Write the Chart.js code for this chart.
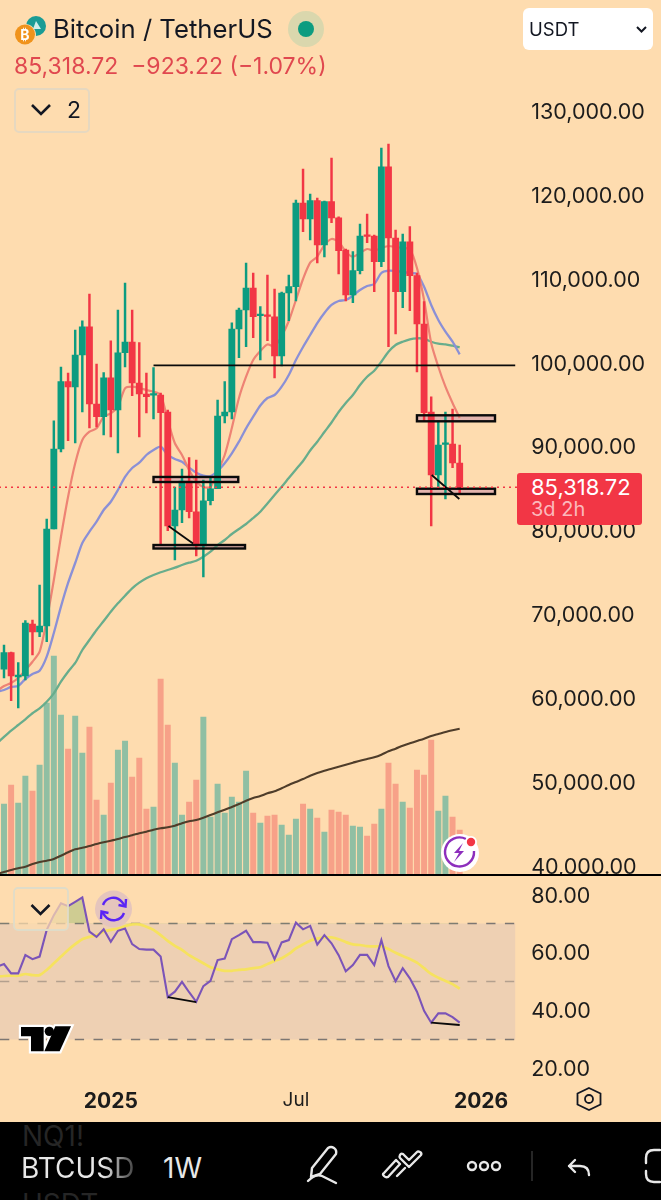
<!DOCTYPE html>
<html><head><meta charset="utf-8">
<script src="https://cdn.jsdelivr.net/npm/chart.js@4"></script>
<style>
html,body{margin:0;padding:0;background:#fedcaf;width:661px;height:1200px;overflow:hidden;font-family:Inter,sans-serif;color:#131722}
canvas{position:absolute;left:-7px}
.a{position:absolute;white-space:nowrap;line-height:1}
svg{position:absolute;overflow:visible}
</style></head><body>
<canvas id="main" style="top:0"></canvas>
<canvas id="rsi" style="top:876px"></canvas>

<svg style="left:0;top:0" width="661" height="130">
  <circle cx="36" cy="26" r="10" fill="#1a9c95"/><path d="M36 21l5 8h-8z" fill="#cfeeea"/>
  <circle cx="25" cy="35" r="11" fill="#fedcaf"/><circle cx="25" cy="34.5" r="10" fill="#f0931c"/>
  <text x="25" y="40" font-size="14" font-weight="700" fill="#fff" text-anchor="middle" font-family="Inter">₿</text>
  <circle cx="306" cy="29" r="18" fill="#dad7ad"/><circle cx="306" cy="29" r="8" fill="#0c9c80"/>
</svg>
<div class="a" style="left:53px;top:16px;font-size:25.7px">Bitcoin / TetherUS</div>
<div class="a" style="left:14px;top:55px;font-size:23px;color:#e0484f;">85,318.72&nbsp; −923.22 (−1.07%)</div>
<div class="a" style="left:14px;top:88px;width:72px;height:41px;border:2px solid #e6d8c0;border-radius:5px"></div>
<svg style="left:0;top:0" width="100" height="130"><path d="M32 105l9 9 9-9" fill="none" stroke="#131722" stroke-width="2.6"/></svg>
<div class="a" style="left:67px;top:99px;font-size:23px">2</div>

<div class="a" style="left:523px;top:8px;width:130px;height:42px;background:#fff;border-radius:6px"></div>
<div class="a" style="left:529px;top:20px;font-size:18.5px">USDT</div>
<svg style="left:0;top:0" width="661" height="60"><path d="M637 27l4.500 4.500 4.500-4.500" fill="none" stroke="#131722" stroke-width="2"/></svg>

<div class="a" style="left:517px;top:473px;width:125px;height:52px;background:#f23645;border-radius:3px"></div>
<div class="a" style="left:531px;top:476px;font-size:22px;color:#fff;">85,318.72</div>
<div class="a" style="left:531px;top:499px;font-size:20px;color:#fbb9bc">3d 2h</div>

<div class="a" style="left:0;top:874px;width:661px;height:2px;background:#000"></div>

<svg style="left:0;top:0" width="661" height="1200">
  <circle cx="460" cy="853" r="19" fill="#fff"/>
  <path d="M474 851a14.500 14.500 0 1 1-8-12" fill="none" stroke="#8d2fbd" stroke-width="2.400"/>
  <path d="M463 843l-9 10h5l-5 9 10-11h-5l4-8z" fill="#8d2fbd"/>
  <circle cx="471" cy="842" r="6" fill="#fff"/><circle cx="471" cy="842" r="4.200" fill="#f23645"/>
  <rect x="14" y="888" width="54" height="42" rx="4" fill="#fedcaf" fill-opacity=".72" stroke="#dfdcc9" stroke-width="1.800"/>
  <path d="M31.500 905l9 9 9-9" fill="none" stroke="#131722" stroke-width="2.600"/>
  <circle cx="113.500" cy="909" r="18.500" fill="#e5c5bd"/>
  <g fill="none" stroke="#5a25f5" stroke-width="2.400">
    <path d="M103 905a11 11 0 0 1 19-3l3 4"/><path d="M124 913a11 11 0 0 1-19 3l-3-4"/>
    <path d="M126 899l-.5 7.500-7-1.500"/><path d="M101 919l.5-7.500 7 1.500"/>
  </g>
  <g transform="translate(17 1023) scale(.3333)">
    <path d="M12 12H80V85H42V40H12Z" fill="#000" stroke="#fff" stroke-width="13"/>
    <circle cx="97" cy="25" r="14" fill="#000" stroke="#fff" stroke-width="13"/>
    <path d="M115 10H162L128 85H82Z" fill="#000" stroke="#fff" stroke-width="13"/>
    <path d="M12 12H80V85H42V40H12Z" fill="#000"/><circle cx="97" cy="25" r="14" fill="#000"/><path d="M115 10H162L128 85H82Z" fill="#000"/>
  </g>
  <path d="M589 1088l11.500 5.500v11L589 1110l-11.500-5.500v-11z" fill="none" stroke="#131722" stroke-width="1.800"/>
  <circle cx="589" cy="1099" r="4" fill="none" stroke="#131722" stroke-width="1.800"/>
</svg>

<div class="a" style="left:0;top:1122px;width:661px;height:78px;background:#000;overflow:hidden">
  <div class="a" style="left:22px;top:0;font-size:28px;color:#262626">NQ1!</div>
  <div class="a" style="left:22px;top:68px;font-size:28px;color:#262626">USDT</div>
  <div class="a" style="left:21px;top:32px;font-size:28px;background:linear-gradient(90deg,#e8e8e8 72%,#444 100%);-webkit-background-clip:text;background-clip:text;color:transparent">BTCUSD</div>
  <div class="a" style="left:163px;top:32px;font-size:28px;color:#e8e8e8">1W</div>
  <svg style="left:0;top:-1122px" width="661" height="1200">
    <g fill="none" stroke="#e8e8e8" stroke-width="2.400" stroke-linecap="round" stroke-linejoin="round">
      <path d="M312 1168l16-20q3-2 6 0t2 6l-16 20-9 3z"/><path d="M308 1181q8-8 14-5t14 7"/>
      <path d="M384 1173l12-13 4 4-12 13q-2 1-4-1t0-3zM397 1176l8-8M404 1162l5 5 12-12q1-2-1-3t-3 0l-8 8-6-6q-2-1-3 1t0 3z"/>
      <circle cx="472" cy="1166" r="4"/><circle cx="484" cy="1166" r="4"/><circle cx="496" cy="1166" r="4"/>
      <path d="M589 1175q0-9-9-9h-11M575 1160l-6 6 6 6"/>
      <path d="M660 1150h-6q-8 0-8 8v5M660 1182h-6q-8 0-8-8v-3"/>
    </g>
    <path d="M532 1151v30" stroke="#333" stroke-width="1.500"/>
  </svg>
</div>

<script>
const weeks=['2024-09-16','2024-09-23','2024-09-30','2024-10-07','2024-10-14','2024-10-21','2024-10-28','2024-11-04','2024-11-11','2024-11-18','2024-11-25','2024-12-02','2024-12-09','2024-12-16','2024-12-23','2024-12-30','2025-01-06','2025-01-13','2025-01-20','2025-01-27','2025-02-03','2025-02-10','2025-02-17','2025-02-24','2025-03-03','2025-03-10','2025-03-17','2025-03-24','2025-03-31','2025-04-07','2025-04-14','2025-04-21','2025-04-28','2025-05-05','2025-05-12','2025-05-19','2025-05-26','2025-06-02','2025-06-09','2025-06-16','2025-06-23','2025-06-30','2025-07-07','2025-07-14','2025-07-21','2025-07-28','2025-08-04','2025-08-11','2025-08-18','2025-08-25','2025-09-01','2025-09-08','2025-09-15','2025-09-22','2025-09-29','2025-10-06','2025-10-13','2025-10-20','2025-10-27','2025-11-03','2025-11-10','2025-11-17','2025-11-24','2025-12-01','2025-12-08','2025-12-15','2025-12-22','2025-12-29','2026-01-05','2026-01-12','2026-01-19','2026-01-26','2026-02-02','2026-02-09'];

// the first week (2024-09-16) lies just off the left edge: only the lines reach into view from it
const open=[null,63627,65605,62710,62828,69025,68070,68785,80350,89885,97905,97275,101090,104460,95250,93735,98380,94530,101360,102635,97750,96440,96285,96320,94295,80705,82615,86070,82410,78320,83720,85150,93815,94295,104185,106450,109075,105785,105795,105650,100970,108480,109230,119205,117300,119480,114200,119360,117450,113600,108240,111135,115330,115270,112210,123530,115030,108630,114590,110540,104785,94295,86785,90420,90480,88215];
const high=[null,66522,65688,64413,69420,69500,73675,81540,93255,99660,98945,104065,105175,108360,100015,98980,102790,106450,109670,106450,102555,98945,99575,96560,94530,85355,87500,88850,88575,86190,86430,95725,97905,104935,106690,112055,110860,106845,110620,108955,108600,110620,119560,123255,120280,119800,119440,124570,117570,113720,113400,116700,117895,115390,125760,126235,115985,115510,116380,110860,107440,96115,93255,94295,94650,90360];
const low=[null,62589,59885,59015,62350,65330,67510,66915,80350,89525,90875,90600,94295,92385,92505,91550,91315,89410,99660,96240,91315,94175,93460,78360,80145,76655,81100,81660,77130,74630,83210,85150,93000,93460,100765,102075,103150,100490,102790,98345,99775,105175,107525,115785,114795,112055,112770,116855,110740,107525,107320,110740,114470,108630,111610,102075,103590,106725,106370,99060,93140,80705,85355,83925,87660,84675];
const close=[null,65605,62828,62947,69145,68070,68785,80350,89885,97905,97275,101090,104460,95250,93735,98380,94530,101360,102635,97750,96440,96120,96355,94210,80705,82615,86070,82410,78320,83720,85150,93815,94295,104185,106450,109075,105650,105855,105675,100970,108480,109230,119205,117300,119480,114200,119360,117415,113520,108240,111135,115270,115210,112210,123530,115030,108630,114590,110540,104785,94210,86785,90360,90540,88215,85318.72];

const volume=[null,71000,90000,72000,99000,84000,110000,172000,219000,160000,126000,159000,122000,148000,75000,60000,92000,125000,134000,98000,117000,66000,68000,196000,150000,112000,60000,73000,95000,158000,58000,91000,62000,78000,73000,104000,62000,52000,59000,60000,50000,40000,56000,71000,66000,57000,43000,65000,63000,60000,49000,48000,39000,51000,66000,112000,91000,73000,67000,105000,100000,135000,64000,79000,58000,45000];
const volumeMA=[1000,3000,5000,6700,8300,11000,13000,14300,16000,19300,22700,25700,27300,29000,31000,32700,34300,36000,38000,39700,41700,43300,45300,46700,47700,49300,51700,53700,55000,57300,60000,62700,65300,68000,71000,74300,77000,79000,81700,83700,86700,90000,93000,96000,99300,102000,104300,106300,108300,110300,112300,114300,116000,117700,120300,123700,126300,129300,131700,134000,136300,139000,141000,143000,144700,146300];

const emaFast=[61040,61636,62000,62590,63540,64530,65725,69500,74270,79430,84200,88180,90960,91945,92350,93735,94140,94925,97120,97310,97155,96915,96715,96320,93340,90565,89170,87380,85985,85355,85355,87180,89170,92385,95965,98500,100490,101565,102340,102100,103350,105140,107645,110145,112090,112805,114200,114915,114590,113400,112805,113245,113720,113520,113840,114080,113960,113840,113720,111460,107645,102520,99690,97310,95365,93580];
const emaMid=[60920,61160,61520,61635,62470,63065,63460,65130,67950,71090,73915,76295,78680,80030,81220,82615,83600,85000,86550,87620,88250,89170,89765,90160,89170,88690,88370,87655,87060,86700,86665,87260,88180,89370,90755,92350,93735,95070,95965,96320,97310,98705,100490,102040,103470,104900,106095,107050,107525,107645,108155,108835,109310,109550,110860,111135,111100,110980,110860,110740,109230,107050,105260,103865,102670,101170];
const emaSlow=[54780,55560,56310,56990,57670,58385,58975,59765,60765,62150,63340,64380,65925,67120,68310,69385,70490,71490,72400,73280,73950,74475,74870,75190,75460,75735,76055,76335,76570,77050,77645,78440,79040,79750,80350,80945,81660,82410,83390,84400,85390,86425,87440,88455,89705,90755,91910,93040,94295,95365,96320,97510,98500,99215,100290,101480,102280,102670,102960,103080,103030,102670,102430,102360,102195,102005];

const rsiValues=[55.1,56.0,52.8,52.8,59.1,57.7,58.6,67.8,72.9,77.0,76.0,77.5,79.0,67.2,65.4,68.0,63.7,67.5,68.3,62.9,61.2,61.0,61.0,58.6,44.6,46.5,49.9,46.3,43.0,48.4,50.2,57.4,57.9,64.6,66.0,67.5,63.6,63.6,63.4,57.7,63.5,64.3,70.3,68.0,69.2,62.7,66.0,63.2,59.1,53.5,55.7,59.2,59.2,55.7,64.3,55.3,50.1,54.6,51.1,46.5,39.9,35.8,39.0,39.0,37.7,35.8];
const rsiMA=[51.7,51.9,52.0,52.0,52.6,52.2,52.2,54.0,56.3,58.6,60.9,62.9,64.6,65.4,66.0,67.2,67.8,68.3,69.1,69.7,69.7,68.9,67.8,66.0,64.0,62.3,60.9,59.1,57.7,56.3,54.9,54.2,53.7,53.7,54.0,54.2,54.6,54.9,56.0,57.1,58.0,59.5,61.4,62.8,64.1,64.8,65.2,65.2,64.6,63.6,62.8,62.6,62.2,62.1,62.2,61.2,59.9,58.8,57.8,56.5,54.6,52.6,51.3,50.2,49.1,47.5];

const priceTicks=[40000,50000,60000,70000,80000,90000,100000,110000,120000,130000];
const rsiTicks=[20,40,60,80];
const rsiLevels=[30,50,70];
const timeTickIndex=[16,42,68];
const timeTickLabels=['2025','Jul','2026'];
const lastPrice=85318.72;

// drawing tools: [from index, to index, upper price, lower price]
const zones=[[22,33.9,86550,85950],[22,34.85,78440,78025],[59,69.96,93900,93185],[59,69.96,85150,84520]];
// [from index, to index, from value, to value]
const priceTrends=[[22,72.8,99860,99860],[24.1,27.55,80705,78625],[61.07,64.95,86785,83925]];
const rsiTrends=[[24,28,44.6,42.9],[61,65,35.8,35]];
const paneEndIndex=72.8;

const GREEN='#0c9c80',RED='#f23645',VG='#90bfa3',VR='#f7a188';
const isUp=i=>close[i]>=open[i];
const font={family:'Inter, sans-serif',size:21.5};
const ink='#1c1c1c';
Chart.defaults.animation=false;
Chart.defaults.font.family='Inter, sans-serif';

function noGrid(){return {display:false,drawTicks:false};}
function noPad(s){s.paddingTop=s.paddingBottom=s.paddingLeft=s.paddingRight=0;}

const toolsMain={id:'toolsMain',
  beforeDatasetsDraw(c){
    const {ctx,scales:{x,y}}=c;ctx.save();
    ctx.fillStyle='#e3b4ad';
    zones.forEach(z=>{const a=x.getPixelForValue(z[0]),b=x.getPixelForValue(z[1]),t=y.getPixelForValue(z[2]),u=y.getPixelForValue(z[3]);ctx.fillRect(a,t,b-a,u-t);});
    ctx.restore();
  },
  afterDatasetsDraw(c){
    const {ctx,scales:{x,y}}=c;ctx.save();
    ctx.strokeStyle='#0a0a0a';ctx.lineWidth=2.4;
    zones.forEach(z=>{const a=x.getPixelForValue(z[0]),b=x.getPixelForValue(z[1]),t=y.getPixelForValue(z[2]),u=y.getPixelForValue(z[3]);ctx.strokeRect(a,t,b-a,u-t);});
    ctx.lineWidth=1.8;
    priceTrends.forEach(l=>{ctx.beginPath();ctx.moveTo(x.getPixelForValue(l[0]),y.getPixelForValue(l[2]));ctx.lineTo(x.getPixelForValue(l[1]),y.getPixelForValue(l[3]));ctx.stroke();});
    ctx.strokeStyle=RED;ctx.lineWidth=1.6;ctx.setLineDash([2,4]);
    ctx.beginPath();const py=y.getPixelForValue(lastPrice);ctx.moveTo(0,py);ctx.lineTo(x.right,py);ctx.stroke();
    ctx.restore();
  }};

const toolsRsi={id:'toolsRsi',
  beforeDatasetsDraw(c){
    const {ctx,scales:{x,y}}=c;ctx.save();
    const r=x.getPixelForValue(paneEndIndex);
    const t=y.getPixelForValue(rsiLevels[2]),b=y.getPixelForValue(rsiLevels[0]);
    ctx.fillStyle='#eed0b3';ctx.fillRect(0,t,r,b-t);
    ctx.lineWidth=1.5;ctx.setLineDash([9.3,9.4]);
    rsiLevels.forEach(v=>{ctx.strokeStyle=v===50?'#b3a08e':'#7c7672';ctx.beginPath();const p=y.getPixelForValue(v);ctx.moveTo(7,p);ctx.lineTo(r,p);ctx.stroke();});
    ctx.restore();
  },
  afterDatasetsDraw(c){
    const {ctx,scales:{x,y}}=c;ctx.save();
    ctx.strokeStyle='#0a0a0a';ctx.lineWidth=1.8;
    rsiTrends.forEach(l=>{ctx.beginPath();ctx.moveTo(x.getPixelForValue(l[0]),y.getPixelForValue(l[2]));ctx.lineTo(x.getPixelForValue(l[1]),y.getPixelForValue(l[3]));ctx.stroke();});
    ctx.restore();
  }};

const lineSet=(data,color,w,order,axis)=>({type:'line',data,borderColor:color,borderWidth:w,pointRadius:0,tension:.25,order,yAxisID:axis||'y',fill:false});

const mainEl=document.getElementById('main');mainEl.width=668;mainEl.height=875;
new Chart(mainEl,{
  data:{labels:weeks,datasets:[
    {type:'bar',data:open.map((o,i)=>o===null?null:[Math.min(o,close[i]),Math.max(o,close[i])]),backgroundColor:open.map((o,i)=>isUp(i)?GREEN:RED),barThickness:6.2,minBarLength:1.6,grouped:false,order:1,yAxisID:'y'},
    {type:'bar',data:low.map((l,i)=>l===null?null:[l,high[i]]),backgroundColor:open.map((o,i)=>isUp(i)?GREEN:RED),barThickness:1.8,grouped:false,order:2,yAxisID:'y'},
    lineSet(emaFast,'#ee8374',2.2,3),
    lineSet(emaMid,'#8b90d6',2.3,4),
    lineSet(emaSlow,'#68ad8c',2.3,5),
    lineSet(volumeMA,'#4f3d2a',2.1,6,'yVol'),
    {type:'bar',data:volume,backgroundColor:open.map((o,i)=>isUp(i)?VG:VR),barThickness:5.3,grouped:false,order:7,yAxisID:'yVol'}
  ]},
  options:{responsive:false,devicePixelRatio:1,animation:false,
    layout:{autoPadding:false,padding:{left:.32,right:0,top:0,bottom:0}},
    plugins:{legend:{display:false},tooltip:{enabled:false}},
    scales:{
      x:{type:'category',offset:true,display:false,grid:noGrid()},
      y:{position:'right',min:39109,max:143400,grid:noGrid(),border:{display:false},
        afterFit(s){s.width=140.8;noPad(s);},
        afterBuildTicks(s){s.ticks=priceTicks.map(v=>({value:v}));},
        ticks:{padding:11,font,color:ink,callback:v=>v.toLocaleString('en-US',{minimumFractionDigits:2,maximumFractionDigits:2})}},
      yVol:{display:false,min:0,max:875000}
    }},
  plugins:[toolsMain]
});

const rsiEl=document.getElementById('rsi');rsiEl.width=668;rsiEl.height=245;
new Chart(rsiEl,{
  data:{labels:weeks,datasets:[
    {type:'line',data:rsiValues,borderColor:'#7b54b8',borderWidth:2.1,pointRadius:0,tension:0,order:1,
      fill:{target:{value:70},above:'rgba(150,185,110,.45)',below:'rgba(0,0,0,0)'}},
    {type:'line',data:rsiMA,borderColor:'#f6e25e',borderWidth:2.7,pointRadius:0,tension:.25,order:2,fill:false}
  ]},
  options:{responsive:false,devicePixelRatio:1,animation:false,
    layout:{autoPadding:false,padding:{left:.32,right:0,top:0,bottom:0}},
    plugins:{legend:{display:false},tooltip:{enabled:false}},
    scales:{
      x:{type:'category',offset:true,grid:noGrid(),border:{display:false},
        afterFit(s){s.height=36;noPad(s);},
        afterBuildTicks(s){s.ticks=timeTickIndex.map(v=>({value:v}));},
        ticks:{autoSkip:false,maxRotation:0,padding:4,color:ink,
          font:c=>({family:'Inter, sans-serif',size:timeTickLabels[c.index]==='Jul'?19:21,weight:timeTickLabels[c.index]==='Jul'?'400':'700'}),
          callback:(v,i)=>timeTickLabels[i]}},
      y:{position:'right',min:14.3,max:86.4,grid:noGrid(),border:{display:false},
        afterFit(s){s.width=140.8;noPad(s);},
        afterBuildTicks(s){s.ticks=rsiTicks.map(v=>({value:v}));},
        ticks:{padding:11,labelOffset:1.5,font,color:ink,callback:v=>v.toFixed(2)}}
    }},
  plugins:[toolsRsi]
});
</script>
</body></html>
